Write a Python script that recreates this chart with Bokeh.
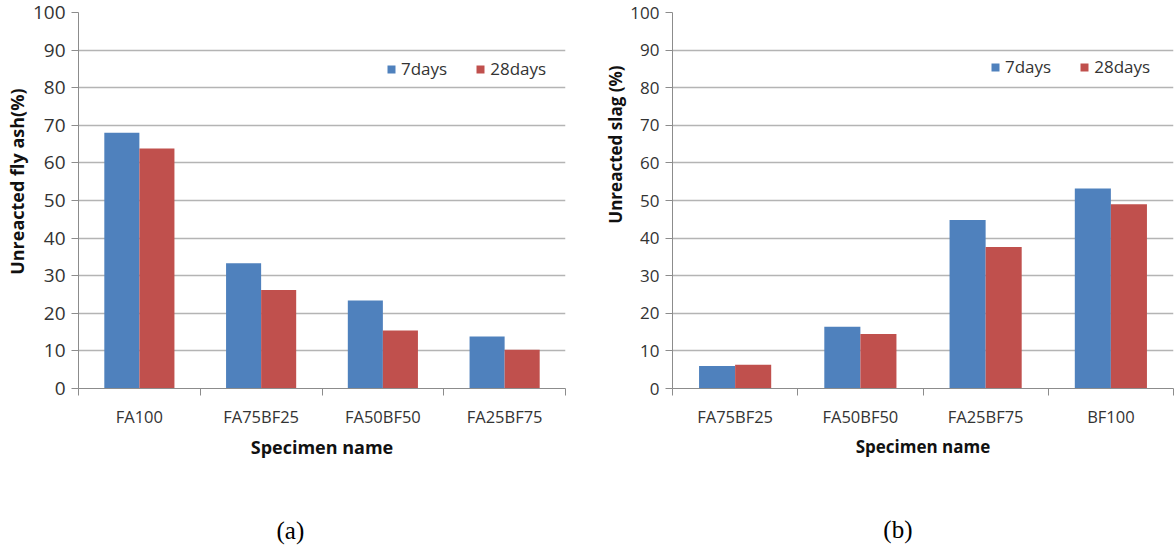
from bokeh.plotting import figure
from bokeh.models import (ColumnDataSource, Range1d, LinearAxis,
                          FixedTicker, Title)
from bokeh.layouts import row
from bokeh.embed import file_html
from bokeh.resources import INLINE

# ---- data ----
cats_a = ["FA100", "FA75BF25", "FA50BF50", "FA25BF75"]
d7_a = [68.0, 33.3, 23.4, 13.8]
d28_a = [63.8, 26.2, 15.4, 10.3]

cats_b = ["FA75BF25", "FA50BF50", "FA25BF75", "BF100"]
d7_b = [6.0, 16.4, 44.8, 53.2]
d28_b = [6.3, 14.5, 37.6, 49.0]

series = ["7days", "28days"]
y_ticks = list(range(0, 101, 10))
x_title = "Specimen name"
y_title_a = "Unreacted fly ash(%)"
y_title_b = "Unreacted slag (%)"
captions = ["(a)", "(b)"]

BLUE = "#4F81BD"
RED = "#C0504D"
GRID = "#b4b4b4"
AXIS = "#8c8c8c"
FONT = "Open Sans"
BAR_W = 0.288
HEIGHT = 552


def panel(cats, v7, v28, ytitle, caption, width, bl, br, bt, bb,
          ytick_fs, xtick_fs, title_fs, ytitle_offset, ytitle_standoff,
          legend_xy, cap_pos, cap_standoff):
    n = len(cats)
    centers = [i + 0.5 for i in range(n)]
    src = ColumnDataSource(dict(
        x7=[c - BAR_W / 2 for c in centers],
        x28=[c + BAR_W / 2 for c in centers],
        d7=v7, d28=v28))
    p = figure(x_range=Range1d(0, n), y_range=Range1d(0, 100),
               width=width, height=HEIGHT, output_backend="svg",
               toolbar_location=None, x_axis_location=None,
               min_border_left=bl, min_border_right=br,
               min_border_top=bt, min_border_bottom=bb)
    p.outline_line_color = None
    p.background_fill_color = "white"
    p.border_fill_color = "white"

    p.vbar(x="x7", top="d7", width=BAR_W, source=src, color=BLUE,
           line_color=None, legend_label=series[0])
    p.vbar(x="x28", top="d28", width=BAR_W, source=src, color=RED,
           line_color=None, legend_label=series[1])

    # y axis
    ya = p.yaxis[0]
    ya.ticker = FixedTicker(ticks=y_ticks)
    ya.axis_line_color = AXIS
    ya.major_tick_line_color = AXIS
    ya.major_tick_out = 7
    ya.major_tick_in = 0
    ya.minor_tick_line_color = None
    ya.major_label_text_font = FONT
    ya.major_label_text_font_size = ytick_fs
    ya.major_label_text_color = "#333333"
    ya.major_label_standoff = 6

    ytt = Title(text=ytitle, align="right", offset=ytitle_offset,
                standoff=ytitle_standoff, vertical_align="bottom",
                text_font=FONT, text_font_style="bold",
                text_font_size=title_fs, text_color="#111111")
    p.add_layout(ytt, "left")

    p.ygrid.grid_line_color = GRID
    p.ygrid.grid_line_width = 1.3
    p.ygrid.ticker = FixedTicker(ticks=y_ticks)
    p.xgrid.grid_line_color = None

    # x axis: category labels at centres, boundary ticks as minor ticks
    xa = LinearAxis(ticker=FixedTicker(ticks=centers,
                                       minor_ticks=list(range(n + 1))),
                    major_label_overrides={c: s for c, s in zip(centers, cats)},
                    axis_line_color=AXIS,
                    major_tick_line_color=None, major_tick_out=0, major_tick_in=0,
                    minor_tick_line_color=AXIS, minor_tick_out=7, minor_tick_in=0,
                    major_label_text_font=FONT,
                    major_label_text_font_size=xtick_fs,
                    major_label_text_color="#333333",
                    major_label_standoff=9,
                    axis_label=x_title,
                    axis_label_text_font=FONT,
                    axis_label_text_font_style="bold",
                    axis_label_text_font_size=title_fs,
                    axis_label_text_color="#111111",
                    axis_label_standoff=4)
    p.add_layout(xa, "below")

    # panel caption "(a)" / "(b)" under the chart
    cap = LinearAxis(ticker=FixedTicker(ticks=[cap_pos]),
                     major_label_overrides={cap_pos: caption},
                     axis_line_color=None, major_tick_line_color=None,
                     major_tick_out=0, major_tick_in=0,
                     minor_tick_line_color=None,
                     major_label_standoff=cap_standoff,
                     major_label_text_font="Liberation Serif",
                     major_label_text_font_size="25px",
                     major_label_text_color="#000000")
    p.add_layout(cap, "below")

    lg = p.legend[0]
    lg.orientation = "horizontal"
    lg.location = legend_xy
    lg.border_line_color = None
    lg.background_fill_alpha = 0
    lg.padding = 0
    lg.margin = 0
    lg.spacing = 28
    lg.glyph_width = 10
    lg.glyph_height = 10
    lg.label_standoff = 5
    lg.label_height = 20
    lg.label_text_font = FONT
    lg.label_text_font_size = "17px"
    lg.label_text_color = "#333333"
    return p


pa = panel(cats_a, d7_a, d28_a, y_title_a, captions[0], 598,
           78, 33, 12, HEIGHT - 389, "19px", "16.5px", "18px", 76, 2,
           (308, 308), 1.74, 55)
pb = panel(cats_b, d7_b, d28_b, y_title_b, captions[1], 578,
           74, 3, 9, HEIGHT - 388, "17px", "16.5px", "17px", 53, 2,
           (318, 310), 1.8, 55)

layout = row(pa, pb, spacing=0)
open("out.html", "w").write(file_html(layout, INLINE))
